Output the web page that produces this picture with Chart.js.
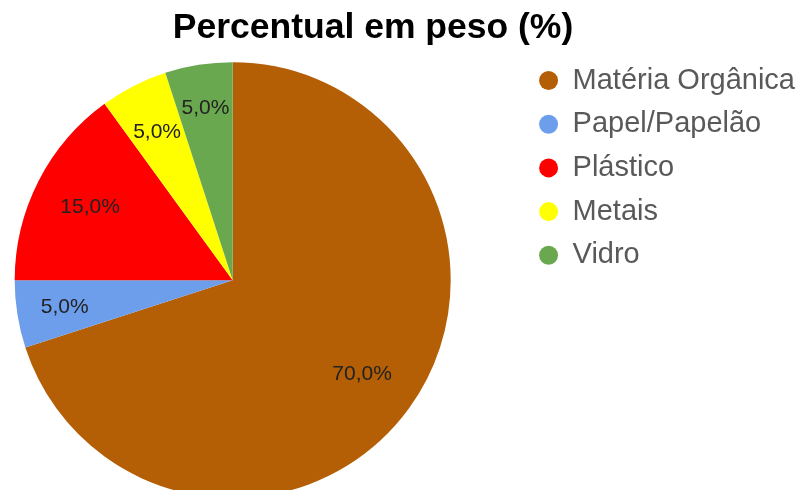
<!DOCTYPE html>
<html>
<head>
<meta charset="utf-8">
<script src="https://cdn.jsdelivr.net/npm/chart.js@4/dist/chart.umd.min.js"></script>
<style>
  html, body { margin: 0; padding: 0; background: #fff; overflow: hidden; }
  #wrap { width: 803px; height: 490px; overflow: hidden; position: relative; }
  #pieChart { position: absolute; left: -59px; top: 0; }
</style>
</head>
<body>
<div id="wrap"><canvas id="pieChart" width="864" height="509"></canvas></div>
<script>
const categories = ['Matéria Orgânica', 'Papel/Papelão', 'Plástico', 'Metais', 'Vidro'];
const weights = [70, 5, 15, 5, 5];
const sliceColors = ['#B45F06', '#6D9EEB', '#FF0000', '#FFFF00', '#6AA84F'];

const FONT = "'Liberation Sans', Arial, sans-serif";

// draws the "70,0%" style labels on the slices
const sliceLabels = {
    id: 'sliceLabels',
    afterDatasetsDraw(chart, args, opts) {
        const ctx = chart.ctx;
        const meta = chart.getDatasetMeta(0);
        ctx.save();
        ctx.font = opts.size + 'px ' + FONT;
        ctx.fillStyle = opts.color;
        ctx.textAlign = 'center';
        ctx.textBaseline = 'middle';
        meta.data.forEach((arc, i) => {
            const mid = (arc.startAngle + arc.endAngle) / 2;
            const r = arc.outerRadius * (opts.radial[i] || 0.75);
            const x = arc.x + Math.cos(mid) * r;
            const y = arc.y + Math.sin(mid) * r;
            const v = chart.data.datasets[0].data[i];
            ctx.fillText(v.toFixed(1).replace('.', ',') + '%', x, y);
        });
        ctx.restore();
    }
};

new Chart(document.getElementById('pieChart').getContext('2d'), {
    type: 'pie',
    data: {
        labels: categories,
        datasets: [{
            data: weights,
            backgroundColor: sliceColors,
            borderWidth: 0
        }]
    },
    options: {
        responsive: false,
        animation: false,
        devicePixelRatio: 1,
        radius: 218,
        layout: {
            padding: 0
        },
        plugins: {
            title: {
                display: true,
                text: 'Percentual em peso (%)',
                color: '#000',
                font: {family: FONT, size: 35.5, weight: 'bold', lineHeight: 1.2},
                padding: {top: 7, bottom: 1.7}
            },
            legend: {
                position: 'right',
                align: 'start',
                fullSize: false,
                labels: {
                    usePointStyle: true,
                    pointStyle: 'circle',
                    boxWidth: 19,
                    boxHeight: 13.4,
                    padding: 14.7,
                    color: '#595959',
                    font: {family: FONT, size: 29}
                }
            },
            tooltip: {enabled: false},
            sliceLabels: {
                size: 21,
                color: '#222222',
                // how far out from the centre each label sits, as a share of the radius
                radial: [0.734, 0.78, 0.734, 0.764, 0.797]
            }
        }
    },
    plugins: [sliceLabels]
});
</script>
</body>
</html>
